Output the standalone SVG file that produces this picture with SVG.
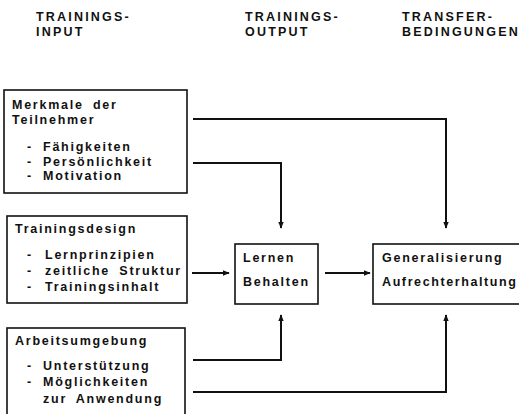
<svg xmlns="http://www.w3.org/2000/svg" width="519" height="414" viewBox="0 0 519 414">
<defs>
<style>
text{font-family:"Liberation Sans",Arial,sans-serif;font-weight:bold;font-size:12.5px;fill:#111;letter-spacing:1.75px;word-spacing:4px}
.h{letter-spacing:2.2px}
.box{fill:none;stroke:#111;stroke-width:1.6}
.c{fill:none;stroke:#111;stroke-width:2}
</style>
<marker id="ah" viewBox="0 0 10 10" refX="9" refY="5" markerWidth="3.5" markerHeight="3.5" orient="auto" markerUnits="strokeWidth">
<path d="M0,1 L10,5 L0,9 z" fill="#111"/>
</marker>
</defs>
<g id="headers">
<text class="h" x="36" y="21">TRAININGS-</text>
<text class="h" x="36" y="36">INPUT</text>
<text class="h" x="245" y="21">TRAININGS-</text>
<text class="h" x="245" y="36">OUTPUT</text>
<text class="h" x="402" y="21">TRANSFER-</text>
<text class="h" x="402" y="36">BEDINGUNGEN</text>
</g>
<g id="teilnehmer">
<rect class="box" x="4" y="90" width="183" height="103"/>
<text x="12" y="109">Merkmale der</text>
<text x="12" y="124">Teilnehmer</text>
<text x="27" y="151">-</text><text x="43" y="151">Fähigkeiten</text>
<text x="27" y="166">-</text><text x="43" y="166">Persönlichkeit</text>
<text x="27" y="180">-</text><text x="43" y="180">Motivation</text>
</g>
<g id="trainingsdesign">
<rect class="box" x="7" y="216" width="180" height="87"/>
<text x="15" y="233">Trainingsdesign</text>
<text x="27" y="259">-</text><text x="45" y="259">Lernprinzipien</text>
<text x="27" y="275">-</text><text x="45" y="275">zeitliche Struktur</text>
<text x="27" y="291">-</text><text x="45" y="291">Trainingsinhalt</text>
</g>
<g id="arbeitsumgebung">
<rect class="box" x="7" y="328" width="178" height="95"/>
<text x="15" y="345">Arbeitsumgebung</text>
<text x="27" y="370">-</text><text x="43" y="370">Unterstützung</text>
<text x="27" y="386">-</text><text x="43" y="386">Möglichkeiten</text>
<text x="43" y="403">zur Anwendung</text>
</g>
<g id="output">
<rect class="box" x="235" y="244" width="83" height="60"/>
<text x="243" y="262">Lernen</text>
<text x="243" y="286">Behalten</text>
</g>
<g id="transfer">
<rect class="box" x="373" y="244" width="150" height="60"/>
<text x="382" y="262">Generalisierung</text>
<text x="382" y="286" style="letter-spacing:1.6px">Aufrechterhaltung</text>
</g>
<g id="connectors">
<path class="c" d="M193,119 H446 V228" marker-end="url(#ah)"/>
<path class="c" d="M193,163 H281 V228" marker-end="url(#ah)"/>
<path class="c" d="M192,273 H229" marker-end="url(#ah)"/>
<path class="c" d="M325,273 H370" marker-end="url(#ah)"/>
<path class="c" d="M193,360 H281 V315" marker-end="url(#ah)"/>
<path class="c" d="M193,392 H446 V315" marker-end="url(#ah)"/>
</g>
</svg>
